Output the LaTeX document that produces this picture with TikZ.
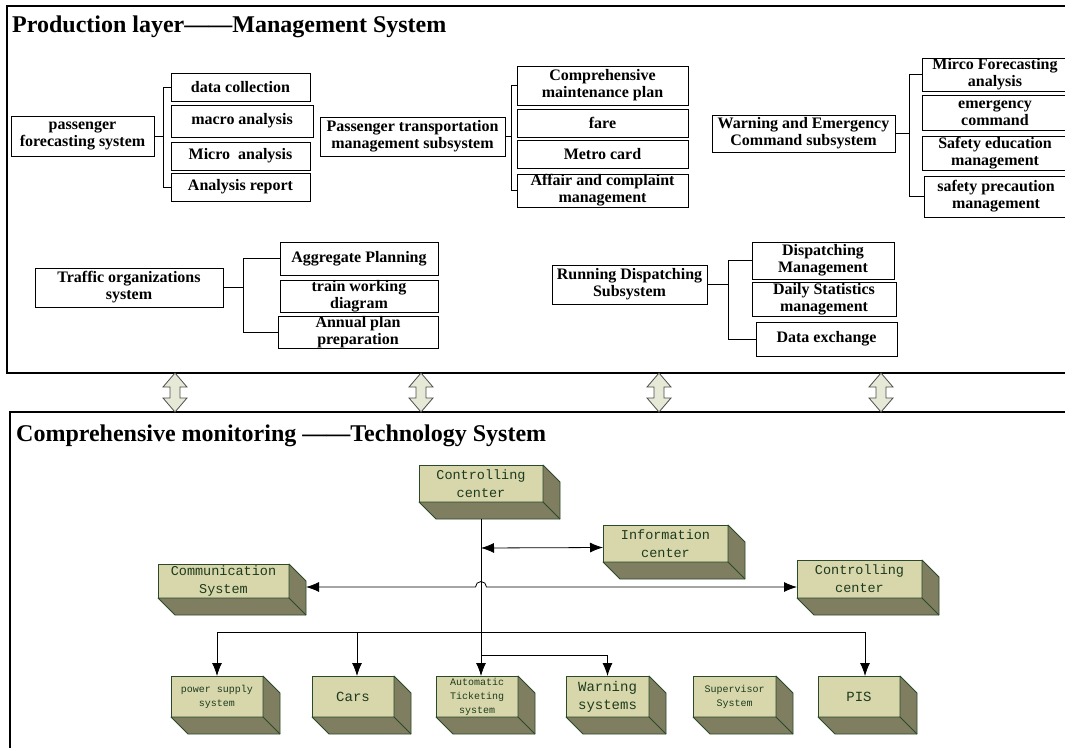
\documentclass[tikz,border=0pt]{standalone}
\usepackage{fontspec}
\setmainfont{Liberation Serif}
\setmonofont{Liberation Mono}
\usetikzlibrary{positioning,arrows.meta}

\definecolor{cubefront}{HTML}{D7D7AB}
\definecolor{cubeshade}{HTML}{7F7E60}
\definecolor{cubeline}{HTML}{2B4A2B}
\definecolor{cubetext}{HTML}{1E3A1E}
\definecolor{linkfill}{HTML}{E6E9D5}

% side and bottom faces of a 3d box
\newcommand{\cubeside}[1]{%
  \filldraw[draw=cubeline, fill=cubeshade, line width=0.8pt, line join=round]
    (#1.south west) -- ([shift={(17,17)}]#1.south west) -- ([shift={(17,17)}]#1.south east)
    -- ([shift={(17,17)}]#1.north east) -- (#1.north east) -- (#1.south east) -- cycle;
  \draw[cubeline, line width=0.8pt] (#1.south east) -- ([shift={(17,17)}]#1.south east);}

\begin{document}
\begin{tikzpicture}[x=1pt, y=-1pt,
    box/.style={draw, line width=1pt, inner sep=0pt, outer sep=0pt, align=center,
      font=\bfseries\fontsize{16}{17}\selectfont},
    cube/.style={draw=cubeline, fill=cubefront, line width=0.8pt, inner sep=0pt, outer sep=0pt,
      align=center, text=cubetext, font=\ttfamily\fontsize{13.5}{18}\selectfont},
    smallcube/.style={cube, font=\ttfamily\fontsize{10}{14}\selectfont},
    bigcube/.style={cube, font=\ttfamily\fontsize{14}{18}\selectfont},
    panel/.style={draw, line width=1.5pt},
    link/.style={line width=0.8pt},
    linkarrow/.style={draw=black!70, fill=linkfill, line width=0.8pt},
    >={Latex[length=13pt, width=10pt]}]
    \useasboundingbox (0,0) rectangle (1065,747);
    \clip (0,0) rectangle (1065,747);

    % panels
    \draw[panel] (7,6) rectangle (1080,373);
    \draw[panel] (10,412) rectangle (1080,760);
    \node[anchor=west, inner sep=0pt, font=\bfseries\fontsize{24}{26}\selectfont] (ptitle) at (12,27)
      {Production layer——Management System};
    \node[anchor=west, inner sep=0pt, font=\bfseries\fontsize{24}{26}\selectfont] (ttitle) at (16,436)
      {Comprehensive monitoring ——Technology System};

    % production layer
    \node[box, minimum width=143, minimum height=40] (pfs) at (82.5,136) {passenger\\forecasting system};
    \node[box, minimum width=139, minimum height=28] (dc) at (240.5,87) {data collection};
    \node[box, minimum width=142, minimum height=32] (ma) at (242,121) {macro analysis};
    \node[box, minimum width=139, minimum height=28] (mi) at (240.5,156) {Micro~ analysis};
    \node[box, minimum width=139, minimum height=28] (ar) at (240.5,187) {Analysis report};

    \node[box, minimum width=185, minimum height=39] (pts) at (412.5,136.5) {Passenger transportation\\management subsystem};
    \node[box, minimum width=171, minimum height=39] (cmp) at (602.5,85.5) {Comprehensive\\maintenance plan};
    \node[box, minimum width=171, minimum height=28] (fare) at (602.5,123) {fare};
    \node[box, minimum width=171, minimum height=28] (mc) at (602.5,154) {Metro card};
    \node[box, minimum width=171, minimum height=33] (acm) at (602.5,190.5) {Affair and complaint\\management};

    \node[box, minimum width=183, minimum height=37] (wec) at (803.5,133.5) {Warning and Emergency\\Command subsystem};
    \node[box, minimum width=146, minimum height=33] (mfa) at (995,74.5) {Mirco Forecasting\\analysis};
    \node[box, minimum width=146, minimum height=35] (ec) at (995,112.5) {emergency\\command};
    \node[box, minimum width=146, minimum height=34] (sem) at (995,153) {Safety education\\management};
    \node[box, minimum width=144, minimum height=41] (spm) at (996,196.5) {safety precaution\\management};

    \node[box, minimum width=188, minimum height=39] (tos) at (129,287.5) {Traffic organizations\\system};
    \node[box, minimum width=158, minimum height=33] (ap) at (359,258.5) {Aggregate Planning};
    \node[box, minimum width=158, minimum height=31] (twd) at (359,296.5) {train working\\diagram};
    \node[box, minimum width=160, minimum height=31] (app) at (358,332.5) {Annual plan\\preparation};

    \node[box, minimum width=155, minimum height=39] (rds) at (629.5,284.5) {Running Dispatching\\Subsystem};
    \node[box, minimum width=142, minimum height=37] (dm) at (823,260.5) {Dispatching\\Management};
    \node[box, minimum width=144, minimum height=34] (dsm) at (824,299) {Daily Statistics\\management};
    \node[box, minimum width=141, minimum height=34] (dx) at (826.5,339) {Data exchange};

    % brackets
    \coordinate (pfsb) at (163,136);
    \coordinate (ptsb) at (511,136.5);
    \coordinate (wecb) at (909,133.5);
    \coordinate (tosb) at (243,287.5);
    \coordinate (rdsb) at (728,284.5);
    \draw[link] (pfs.east) -- (pfsb);
    \draw[link] (dc.west) -- (dc.west -| pfsb) -- (ar.west -| pfsb) -- (ar.west);
    \draw[link] (pts.east) -- (ptsb);
    \draw[link] (cmp.west) -- (cmp.west -| ptsb) -- (acm.west -| ptsb) -- (acm.west);
    \draw[link] (wec.east) -- (wecb);
    \draw[link] (mfa.west) -- (mfa.west -| wecb) -- (spm.west -| wecb) -- (spm.west);
    \draw[link] (tos.east) -- (tosb);
    \draw[link] (ap.west) -- (ap.west -| tosb) -- (app.west -| tosb) -- (app.west);
    \draw[link] (rds.east) -- (rdsb);
    \draw[link] (dm.west) -- (dm.west -| rdsb) -- (dx.west -| rdsb) -- (dx.west);

    % links between the layers
    \foreach \x in {175,421,659,881}
      \filldraw[linkarrow] (\x,373) -- ++(12,14) -- ++(-7,0) -- ++(0,11) -- ++(7,0) -- (\x,412)
        -- ++(-12,-14) -- ++(7,0) -- ++(0,-11) -- ++(-7,0) -- cycle;

    % technology system
    \node[cube, minimum width=124, minimum height=37] (cc) at (481,483.5) {Controlling\\center};
    \node[cube, minimum width=125, minimum height=37] (ic) at (665.5,543.5) {Information\\center};
    \node[cube, minimum width=125, minimum height=38] (cc2) at (859.5,579) {Controlling\\center};
    \node[cube, minimum width=131, minimum height=34] (cs) at (223.5,581) {Communication\\System};
    \node[smallcube, minimum width=92, minimum height=41] (pss) at (217,696.5) {power supply\\system};
    \node[bigcube, minimum width=82, minimum height=41] (cars) at (353,696.5) {Cars};
    \node[smallcube, minimum width=82, minimum height=41] (ats) at (477,696.5) {Automatic\\Ticketing\\system};
    \node[bigcube, minimum width=83, minimum height=41] (ws) at (607.5,696.5) {Warning\\systems};
    \node[smallcube, minimum width=83, minimum height=41] (ss) at (734.5,696.5) {Supervisor\\System};
    \node[bigcube, minimum width=82, minimum height=41] (pis) at (859,696.5) {PIS};
    \foreach \n in {cc,ic,cc2,cs,pss,cars,ats,ws,ss,pis}
      \cubeside{\n};

    % connectors
    \coordinate (bus) at (481,632);
    \coordinate (csx) at ([shift={(17,6)}]cs.east);
    \coordinate (hop) at (cc.south |- csx);
    \draw[link, ->] ([shift={(0,17)}]cc.south) -- (cc.south |- ats.north);
    \draw[link] (pss.north |- bus) -- ([xshift=6]pis.north |- bus);
    \draw[link, ->] (pss.north |- bus) -- (pss.north);
    \draw[link, ->] ([xshift=4]cars.north |- bus) -- ([xshift=4]cars.north);
    \draw[link, ->] ([xshift=6]pis.north |- bus) -- ([xshift=6]pis.north);
    \draw[link, ->] (cc.south |- 0,655) -| (ws.north);
    \draw[link, <->] (cc.south |- 0,548) -- ([shift={(0,4)}]ic.west);
    \draw[link, <->] (csx) -- ([xshift=-5.5]hop) arc (180:360:5.5) -- ([shift={(0,8)}]cc2.west);
\end{tikzpicture}
\end{document}
